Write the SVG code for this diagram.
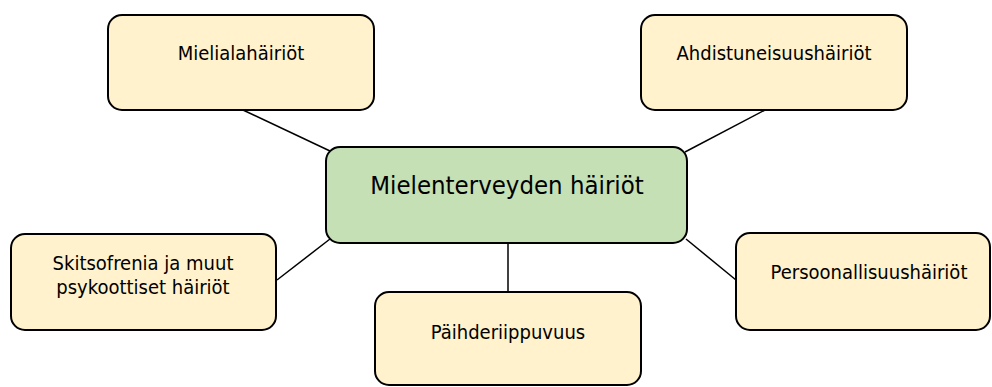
<svg xmlns="http://www.w3.org/2000/svg" width="992" height="387" viewBox="0 0 992 387">
<style>
.box{fill:#fff2cc;stroke:#000;stroke-width:2}
.main{fill:#c5e0b4;stroke:#000;stroke-width:2}
.lbl{font-family:"DejaVu Sans Condensed","DejaVu Sans",sans-serif;font-stretch:condensed;font-size:20px;fill:#000;text-anchor:middle}
.ttl{font-family:"DejaVu Sans Condensed","DejaVu Sans",sans-serif;font-stretch:condensed;font-size:25.5px;fill:#000;text-anchor:middle}
.con{stroke:#000;stroke-width:1.5;fill:none}
</style>
<rect width="992" height="387" fill="#fff"/>
<g id="connectors">
<line class="con" x1="243" y1="110" x2="330" y2="151"/>
<line class="con" x1="765" y1="110" x2="685" y2="152"/>
<line class="con" x1="277" y1="280" x2="330" y2="239"/>
<line class="con" x1="686" y1="239" x2="736" y2="280"/>
<line class="con" x1="508" y1="244" x2="508" y2="292"/>
</g>
<g id="n-mieliala">
<rect class="box" x="108" y="15" width="266" height="95" rx="14"/>
<text class="lbl" x="241" y="60">Mielialahäiriöt</text>
</g>
<g id="n-ahdistus">
<rect class="box" x="641" y="15" width="266" height="95" rx="14"/>
<text class="lbl" x="774" y="60">Ahdistuneisuushäiriöt</text>
</g>
<g id="n-main">
<rect class="main" x="326" y="147" width="361" height="96" rx="14"/>
<text class="ttl" x="507" y="194">Mielenterveyden häiriöt</text>
</g>
<g id="n-skitso">
<rect class="box" x="11" y="234" width="265" height="96" rx="14"/>
<text class="lbl" x="143" y="270">Skitsofrenia ja muut</text>
<text class="lbl" x="143" y="294">psykoottiset häiriöt</text>
</g>
<g id="n-persoona">
<rect class="box" x="736" y="233" width="254" height="97" rx="14"/>
<text class="lbl" x="869" y="279">Persoonallisuushäiriöt</text>
</g>
<g id="n-paihde">
<rect class="box" x="375" y="292" width="266" height="93" rx="14"/>
<text class="lbl" x="508" y="339">Päihderiippuvuus</text>
</g>
</svg>
